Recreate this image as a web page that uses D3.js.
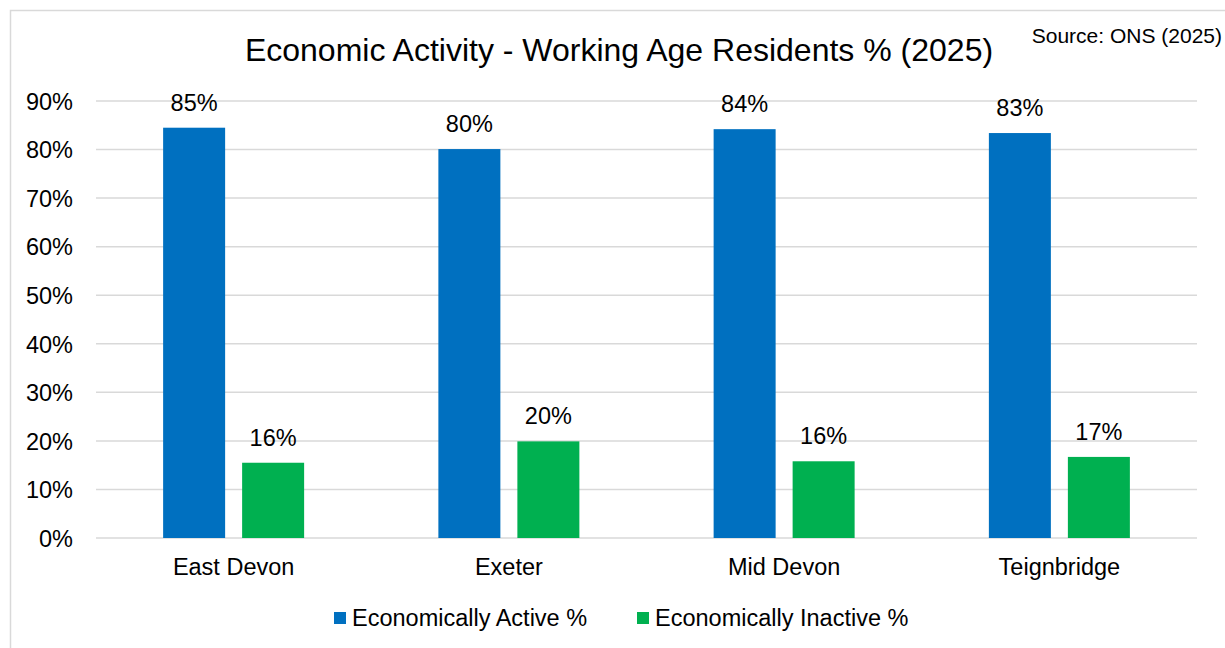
<!DOCTYPE html>
<html><head><meta charset="utf-8">
<script src="https://cdn.jsdelivr.net/npm/d3@7"></script>
<style>body{margin:0;background:#fff;}svg{display:block;font-family:Arial,"Liberation Sans",sans-serif;}</style>
</head><body>
<svg id="c" width="1225" height="648"></svg>
<script>
const categories = ["East Devon", "Exeter", "Mid Devon", "Teignbridge"];
const seriesNames = ["Economically Active %", "Economically Inactive %"];
const activeValues = [84.5, 80.1, 84.2, 83.4];
const inactiveValues = [15.5, 19.9, 15.8, 16.7];
const activeLabels = ["85%", "80%", "84%", "83%"];
const inactiveLabels = ["16%", "20%", "16%", "17%"];
const yTicks = [0, 10, 20, 30, 40, 50, 60, 70, 80, 90];
const colors = ["#0070C0", "#00B050"];

(function(){
const FS = 23.5;
const svg = d3.select("#c");
svg.append("rect").attr("x", 10.5).attr("y", 10.5).attr("width", 1240).attr("height", 660)
  .attr("fill", "#fff").attr("stroke", "#d9d9d9").attr("stroke-width", 1.5);

const pLeft = 96, pRight = 1197, pTop = 101, pBottom = 538;
const y = d3.scaleLinear().domain([0, 90]).range([pBottom, pTop]);
const x0 = d3.scaleBand().domain(categories).range([pLeft, pRight]).paddingInner(0).paddingOuter(0);
const bw = 62, gap = 17;

// gridlines
svg.append("g").selectAll("line").data(yTicks).join("line")
  .attr("x1", pLeft).attr("x2", pRight)
  .attr("y1", d => y(d)).attr("y2", d => y(d))
  .attr("stroke", "#d9d9d9").attr("stroke-width", 1.5);

// y axis labels
const yAxis = d3.axisLeft(y).tickValues(yTicks).tickFormat(d => d + "%").tickSize(0).tickPadding(0);
const ga = svg.append("g").attr("transform", `translate(73,0)`).call(yAxis);
ga.select(".domain").remove();
ga.selectAll("text").attr("font-size", FS).attr("fill", "#000").attr("font-family", "Arial, 'Liberation Sans', sans-serif").attr("dy", "0.35em");

const series = [activeValues, inactiveValues];
const labels = [activeLabels, inactiveLabels];
series.forEach((vals, si) => {
  const g = svg.append("g");
  const xp = (c) => x0(c) + x0.bandwidth() / 2 + (si === 0 ? -gap / 2 - bw : gap / 2);
  g.selectAll("rect").data(categories).join("rect")
    .attr("x", c => xp(c)).attr("width", bw)
    .attr("y", (c, i) => y(vals[i])).attr("height", (c, i) => pBottom - y(vals[i]))
    .attr("fill", colors[si]);
  g.selectAll("text").data(categories).join("text")
    .attr("x", c => xp(c) + bw / 2).attr("y", (c, i) => y(vals[i]) - 17)
    .attr("text-anchor", "middle").attr("font-size", FS).attr("fill", "#000")
    .text((c, i) => labels[si][i]);
});

// category labels
svg.append("g").selectAll("text").data(categories).join("text")
  .attr("x", c => x0(c) + x0.bandwidth() / 2).attr("y", 575)
  .attr("text-anchor", "middle").attr("font-size", FS).attr("fill", "#000").text(c => c);

// title
svg.append("text").attr("x", 619).attr("y", 61).attr("text-anchor", "middle")
  .attr("font-size", 32).attr("fill", "#000").text("Economic Activity - Working Age Residents % (2025)");
svg.append("text").attr("x", 1222).attr("y", 43).attr("text-anchor", "end")
  .attr("font-size", 21).attr("fill", "#000").text("Source: ONS (2025)");

// legend
const legX = [334, 637];
const lg = svg.append("g").selectAll("g").data(seriesNames).join("g")
  .attr("transform", (d, i) => `translate(${legX[i]},0)`);
lg.append("rect").attr("x", 0).attr("y", 612).attr("width", 12).attr("height", 12).attr("fill", (d, i) => colors[i]);
lg.append("text").attr("x", 18).attr("y", 626).attr("font-size", FS).attr("fill", "#000").text(d => d);
})();
</script>
</body></html>
